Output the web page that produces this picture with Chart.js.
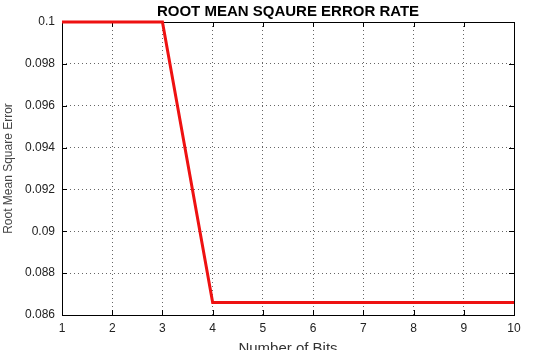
<!DOCTYPE html>
<html lang="en">
<head>
    <meta charset="UTF-8">
    <title>Root Mean Square Error Rate</title>
    <script src="https://cdn.jsdelivr.net/npm/chart.js"></script>
    <style>
        body { margin: 0; padding: 0; background: #fff; }
        #wrap { width: 536px; height: 350px; }
    </style>
</head>
<body>
    <div id="wrap"><canvas id="rmseChart" width="536" height="350"></canvas></div>
    <script>
        // values
        const bits = [1, 2, 3, 4, 5, 6, 7, 8, 9, 10];
        const rmse = [0.1, 0.1, 0.1, 0.0866, 0.0866, 0.0866, 0.0866, 0.0866, 0.0866, 0.0866];
        const yTicks = [0.086, 0.088, 0.09, 0.092, 0.094, 0.096, 0.098, 0.1];
        const chartTitle = 'ROOT MEAN SQAURE ERROR RATE';

        const FONT = 'Liberation Sans, Arial, sans-serif';

        // frame + inward tick marks + title centred over the plot, matlab style
        // drawn before the dataset so the red line sits on top of the box
        const framePlugin = {
            id: 'frame',
            beforeDatasetsDraw(chart) {
                const { ctx, chartArea: a, scales } = chart;
                ctx.save();
                ctx.strokeStyle = '#000';
                ctx.lineWidth = 1;
                ctx.beginPath();
                scales.x.ticks.forEach(t => {
                    const x = Math.round(scales.x.getPixelForValue(t.value)) + 0.5;
                    ctx.moveTo(x, a.bottom); ctx.lineTo(x, a.bottom - 5);
                    ctx.moveTo(x, a.top); ctx.lineTo(x, a.top + 5);
                });
                scales.y.ticks.forEach(t => {
                    const y = Math.round(scales.y.getPixelForValue(t.value)) + 0.5;
                    ctx.moveTo(a.left, y); ctx.lineTo(a.left + 5, y);
                    ctx.moveTo(a.right, y); ctx.lineTo(a.right - 5, y);
                });
                ctx.stroke();
                ctx.strokeRect(Math.round(a.left) + 0.5, Math.round(a.top) + 0.5,
                    Math.round(a.right - a.left), Math.round(a.bottom - a.top));

                ctx.fillStyle = '#000';
                ctx.font = 'bold 15px ' + FONT;
                ctx.textAlign = 'center';
                ctx.textBaseline = 'middle';
                ctx.fillText(chartTitle, (a.left + a.right) / 2, 12);
                ctx.restore();
            }
        };

        new Chart(document.getElementById('rmseChart'), {
            type: 'line',
            data: {
                datasets: [{
                    data: bits.map((b, i) => ({ x: b, y: rmse[i] })),
                    borderColor: '#ee1111',
                    borderWidth: 3,
                    pointRadius: 0,
                    tension: 0,
                    fill: false,
                    clip: false
                }]
            },
            options: {
                responsive: false,
                animation: false,
                layout: { padding: { top: 22, right: 22, bottom: 0, left: 0 } },
                plugins: {
                    legend: { display: false },
                    tooltip: { enabled: false },
                    title: { display: false }
                },
                scales: {
                    x: {
                        type: 'linear',
                        min: 1,
                        max: 10,
                        afterBuildTicks: s => { s.ticks = bits.map(v => ({ value: v })); },
                        afterFit: s => { s.height = 35; },
                        ticks: {
                            color: '#222',
                            padding: 6,
                            font: { family: FONT, size: 12 }
                        },
                        grid: { color: '#666', tickLength: 0, lineWidth: 1 },
                        border: { display: false, dash: [1, 3] },
                        title: {
                            display: true,
                            text: 'Number of Bits',
                            color: '#333',
                            padding: { top: 0, bottom: -8 },
                            font: { family: FONT, size: 15 }
                        }
                    },
                    y: {
                        min: 0.086,
                        max: 0.1,
                        afterBuildTicks: s => { s.ticks = yTicks.map(v => ({ value: v })); },
                        afterFit: s => { s.width = 62; },
                        ticks: {
                            color: '#222',
                            padding: 7,
                            font: { family: FONT, size: 12 },
                            callback: v => String(+v.toFixed(3))
                        },
                        grid: { color: '#666', tickLength: 0, lineWidth: 1 },
                        border: { display: false, dash: [1, 3] },
                        title: {
                            display: true,
                            text: 'Root Mean Square Error',
                            color: '#444',
                            padding: { top: 1, bottom: 0 },
                            font: { family: FONT, size: 12 }
                        }
                    }
                }
            },
            plugins: [framePlugin]
        });
    </script>
</body>
</html>
